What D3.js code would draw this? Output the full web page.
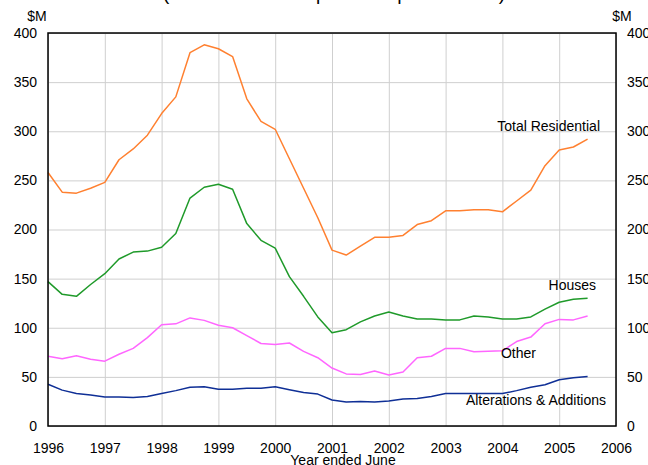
<!DOCTYPE html>
<html>
<head>
<meta charset="utf-8">
<script src="https://cdn.jsdelivr.net/npm/d3@7"></script>
<style>
  body { margin: 0; background: #fff; }
  svg { display: block; font-family: "Liberation Sans", Arial, sans-serif; }
  .grid line { stroke: #cfcfcf; stroke-width: 1; }
  .grid path { display: none; }
  .axis path, .axis line { display: none; }
  .axis text { font-size: 14px; fill: #000; }
  .series { fill: none; stroke-width: 1.5; stroke-linejoin: round; }
  .lbl { font-size: 14px; fill: #000; }
</style>
</head>
<body>
<div id="chart"></div>
<script>
//quarterly data, first point is June quarter 1996
var startYear = 1996;
var yearTicks = [1996, 1997, 1998, 1999, 2000, 2001, 2002, 2003, 2004, 2005, 2006];
var valueTicks = [0, 50, 100, 150, 200, 250, 300, 350, 400];

var totalResidential = [258, 238, 237, 242, 248, 271, 282, 296, 318, 335, 380, 388, 384, 376, 333, 310,
  302, 272, 242, 212, 179, 174, 183, 192, 192, 194, 205, 209, 219, 219, 220, 220,
  218, 229, 240, 265, 281, 284, 292];
var houses = [147, 134, 132, 144, 155, 170, 177, 178, 182, 196, 232, 243, 246, 241, 206, 189,
  181, 152, 132, 111, 95, 98, 106, 112, 116, 112, 109, 109, 108, 108, 112, 111,
  109, 109, 111, 119, 126, 129, 130];
var other = [71, 68.5, 71.5, 68, 66, 73, 79, 90, 103, 104, 110, 107.5, 102.5, 100, 92, 84,
  83, 84.5, 76, 69.5, 59, 53, 52.5, 56, 52, 55, 69.5, 71, 79, 79, 75.5, 76,
  76.5, 86, 90.5, 104, 108.5, 108, 112];
var alterations = [42.5, 36.5, 33, 31.5, 29.5, 29.5, 29, 30, 33, 36, 39.5, 40, 37.5, 37.5, 38.5, 38.5,
  40, 37, 34, 32.5, 26.5, 24.5, 25, 24.5, 25.5, 27.5, 28, 30, 33, 33, 33, 33,
  33, 36, 39.5, 42, 47, 49, 50.5];

var seriesNames = ["Total Residential", "Houses", "Other", "Alterations & Additions"];
var seriesColors = ["#ff8030", "#1f9a2a", "#ff66ff", "#0f2f96"];

(function(){
  var width = 648, height = 465;
  var left = 48, right = 616, top = 33, bottom = 426;

  var svg = d3.select("#chart").append("svg")
      .attr("width", width)
      .attr("height", height);

  var x = d3.scaleLinear().domain([1996, 2006]).range([left, right]);
  var y = d3.scaleLinear().domain([0, 400]).range([bottom, top]);

  //title, mostly cropped off the top of the picture
  svg.append("text")
      .attr("x", 334).attr("y", 0)
      .attr("text-anchor", "middle")
      .style("font-size", "19px")
      .text("(Latest data \u2014 September quarter 2005)");

  //grid lines
  svg.append("g").attr("class", "grid")
      .attr("transform", "translate(0," + bottom + ")")
      .call(d3.axisBottom(x).tickValues(yearTicks).tickSize(-(bottom - top)).tickFormat(""));
  svg.append("g").attr("class", "grid")
      .attr("transform", "translate(" + left + ",0)")
      .call(d3.axisLeft(y).tickValues(valueTicks).tickSize(-(right - left)).tickFormat(""));

  //axes labels
  svg.append("g").attr("class", "axis")
      .attr("transform", "translate(0," + (bottom + 14) + ")")
      .call(d3.axisBottom(x).tickValues(yearTicks).tickFormat(d3.format("d")).tickSize(0));
  svg.append("g").attr("class", "axis")
      .attr("transform", "translate(" + (left - 11) + ",0)")
      .call(d3.axisLeft(y).tickValues(valueTicks).tickSize(0).tickPadding(0));
  svg.append("g").attr("class", "axis")
      .attr("transform", "translate(" + (right + 11) + ",0)")
      .call(d3.axisRight(y).tickValues(valueTicks).tickSize(0).tickPadding(0));

  svg.append("text").attr("class", "lbl").attr("x", 37).attr("y", 21)
      .attr("text-anchor", "middle").text("$M");
  svg.append("text").attr("class", "lbl").attr("x", 622).attr("y", 21)
      .attr("text-anchor", "middle").text("$M");
  svg.append("text").attr("class", "lbl").attr("x", 343).attr("y", 465)
      .attr("text-anchor", "middle").text("Year ended June");

  //lines
  var line = d3.line()
      .x(function(d, i){ return x(startYear + i * 0.25); })
      .y(function(d){ return y(d); });

  var allSeries = [totalResidential, houses, other, alterations];
  svg.selectAll(".series")
      .data(allSeries)
      .enter()
      .append("path")
      .attr("class", "series")
      .attr("d", line)
      .style("stroke", function(d, i){ return seriesColors[i]; });

  //frame
  svg.append("rect")
      .attr("x", left).attr("y", top)
      .attr("width", right - left).attr("height", bottom - top)
      .style("fill", "none").style("stroke", "#000").style("stroke-width", 1.5);

  //series labels
  var labelPos = [[600, 131], [596, 290], [536, 358], [606, 405]];
  svg.selectAll(".serieslbl")
      .data(seriesNames)
      .enter()
      .append("text")
      .attr("class", "lbl")
      .attr("text-anchor", "end")
      .attr("x", function(d, i){ return labelPos[i][0]; })
      .attr("y", function(d, i){ return labelPos[i][1]; })
      .text(function(d){ return d; });
})();
</script>
</body>
</html>
